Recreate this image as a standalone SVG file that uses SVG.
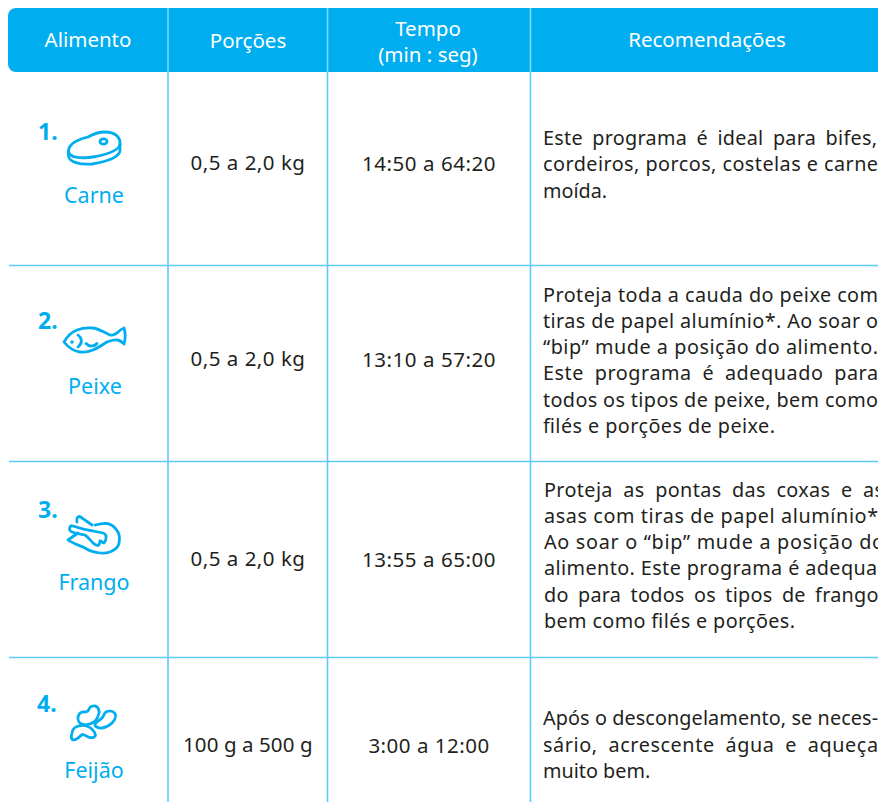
<svg xmlns="http://www.w3.org/2000/svg" width="878" height="802" viewBox="0 0 878 802">
<style>
text{font-family:"Noto Sans","Open Sans","Liberation Sans",sans-serif}
.h{fill:#fff;font-size:20.500px;text-anchor:middle}
.c{fill:#231f20;font-size:20.500px;text-anchor:middle;letter-spacing:.5px}
.r{fill:#231f20;font-size:19.800px}
.l{fill:#00aeef;font-size:21.500px;text-anchor:middle}
.n{fill:#00aeef;font-size:23px;font-weight:700}
.i{fill:none;stroke:#00aeef;stroke-width:2.800;stroke-linejoin:round;stroke-linecap:round}
.g{stroke:#5ccbf7;stroke-width:1.600;fill:none}
.w{stroke:#7fd6f8;stroke-width:1.600;fill:none}
</style>
<rect width="878" height="802" fill="#fff"/>
<g id="header">
<path d="M878 8H16a8 8 0 0 0-8 8V64a8 8 0 0 0 8 8H878Z" fill="#00aeef"/>
<path class="w" d="M168 8V72M327.500 8V72M530.500 8V72"/>
<text class="h" x="88" y="47">Alimento</text>
<text class="h" x="248" y="48">Porções</text>
<text class="h" x="428" y="36">Tempo</text>
<text class="h" x="428" y="62">(min : seg)</text>
<text class="h" x="707" y="47">Recomendações</text>
</g>
<g id="grid">
<path class="g" d="M168 72V802M327.500 72V802M530.500 72V802M9 265.500H878M9 461.500H878M9 657.500H878"/>
</g>
<g id="row1">
<text class="n" x="38" y="140">1.</text>
<g class="i"><path d="M68.500 151C68.500 144 78 139 88 137C93 134 98 132 105 132C115 132 120.500 137 120 144C119.500 150 108 154 96 156.500C82 159 68.500 158 68.500 151Z"/><path d="M68.500 151V156C69 162 80 165 92 164C104 162 120 158 120 150V144"/><ellipse cx="103.500" cy="141.500" rx="3.500" ry="2.700"/></g>
<text class="l" x="94" y="203">Carne</text>
<text class="c" x="248" y="170">0,5 a 2,0 kg</text>
<text class="c" x="429" y="171" textLength="134">14:50 a 64:20</text>
<text class="r" x="543" y="145" word-spacing="4" textLength="334">Este programa é ideal para bifes,</text>
<text class="r" x="543" y="171" textLength="335">cordeiros, porcos, costelas e carne</text>
<text class="r" x="543" y="198">moída.</text>
</g>
<g id="row2">
<text class="n" x="38" y="329">2.</text>
<g class="i"><path d="M64 342C68 335 72 332 77 330C82 328 88 327.500 93 328C100 329 105 333 110 335C113 336 115 334 117 333C119 331 121 329 124 328C125.500 333 125.500 339 124 344C122 342 120 340 117 340C113 339.500 110 341 107 342C102 345 98 348 93 350C88 352 84 352.500 80 352C73 351 68 347 64 342Z"/><path d="M78 335C82 338 83 343 78 347M86 343.500C89 347 94 347 97 343.500"/></g>
<circle cx="72" cy="342" r="1.800" fill="#00aeef"/>
<text class="l" x="95" y="394">Peixe</text>
<text class="c" x="248" y="366">0,5 a 2,0 kg</text>
<text class="c" x="429" y="367" textLength="134">13:10 a 57:20</text>
<text class="r" x="543" y="302" textLength="335">Proteja toda a cauda do peixe com</text>
<text class="r" x="543" y="328" textLength="335">tiras de papel alumínio*. Ao soar o</text>
<text class="r" x="543" y="354" textLength="335">“bip” mude a posição do alimento.</text>
<text class="r" x="543" y="380" word-spacing="5" textLength="335">Este programa é adequado para</text>
<text class="r" x="543" y="407" textLength="335">todos os tipos de peixe, bem como</text>
<text class="r" x="543" y="433" textLength="232">filés e porções de peixe.</text>
</g>
<g id="row3">
<text class="n" x="38" y="518">3.</text>
<g class="i"><path d="M78 533L68 540C72 543 78 545 83 547C88 550 92 552 97 552.500C102 553.500 107 553 110 552C115 550 118.500 547 119 543C120 538 119.500 535 118 532C115 527 111 524 107 523.500C103 523 99 524 95 525"/><path d="M70 527C71 525 72 525.500 73 526C79 528 86 530 93 531L103 533C105.500 534 106.500 536 106 538C106 540 105 542 104 543C102.500 542.500 101.500 541 100 541C100 543 99 545 98 545.500C96 545.500 94.500 544.500 93 543C90 540 88 537 85 535C81 534 76 533.500 72 532C69.500 531 69 529 70 527Z"/><path d="M77 522C76.500 519 77 517 79 516.500C80 516.500 81 517 82 518C85 520 89 523 92 525"/></g>
<text class="l" x="94" y="590">Frango</text>
<text class="c" x="248" y="566">0,5 a 2,0 kg</text>
<text class="c" x="429" y="567" textLength="134">13:55 a 65:00</text>
<text class="r" x="544" y="497" word-spacing="5" textLength="340">Proteja as pontas das coxas e as</text>
<text class="r" x="544" y="523" textLength="340">asas com tiras de papel alumínio*.</text>
<text class="r" x="544" y="549" textLength="340">Ao soar o “bip” mude a posição do</text>
<text class="r" x="544" y="575" textLength="340">alimento. Este programa é adequa-</text>
<text class="r" x="544" y="602" word-spacing="4" textLength="340">do para todos os tipos de frango,</text>
<text class="r" x="544" y="628" textLength="251">bem como filés e porções.</text>
</g>
<g id="row4">
<text class="n" x="37" y="712">4.</text>
<g class="i"><path d="M78 717C79 713 82 711.500 85 712C87.500 712 88.500 711 89 709C90 706.500 93 705.500 95 706C98 706.500 99.500 710 99 713C98 717 96 721 93 722.500C90 724.500 85 725 82 724C79 723 77.500 720 78 717Z"/><path d="M95 724C97 721 100 720 102 718C104 716 104 713 106 712C109 710.500 113 711 115 713.500C116.500 716 115 720 112 723C109 726 105 727.500 102 728C99 728.500 94.500 727 95 724Z"/><path d="M72 733C72.500 729 74 727.500 77 726.500C81 725 85 725 88 726.500C91.500 728 95 732 95.500 735C95.500 737 93 738 90 737.500C87 737 85.500 735 83 734.500C81 734.500 80 736.500 78 738C76 740 72 741 71.500 738C71 736 71.500 735 72 733Z"/></g>
<text class="l" x="94" y="778">Feijão</text>
<text class="c" x="248" y="752" textLength="130">100 g a 500 g</text>
<text class="c" x="429" y="753">3:00 a 12:00</text>
<text class="r" x="543" y="725" textLength="335">Após o descongelamento, se neces-</text>
<text class="r" x="543" y="752" word-spacing="5" textLength="335">sário, acrescente água e aqueça</text>
<text class="r" x="543" y="778">muito bem.</text>
</g>
</svg>
